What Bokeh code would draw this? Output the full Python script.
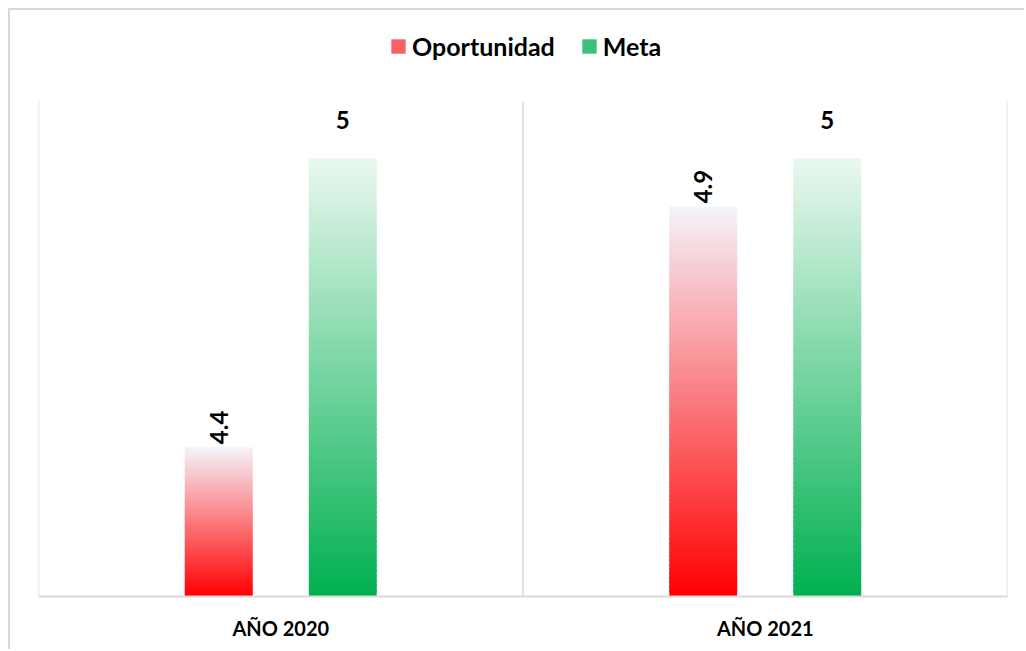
import math
from bokeh.plotting import figure
from bokeh.models import (FactorRange, Range1d, Legend, LegendItem,
                          ColumnDataSource)
from bokeh.core.properties import value
from bokeh.transform import dodge
from bokeh.embed import file_html
from bokeh.resources import INLINE

# ---------------- data ----------------
categories = ["AÑO 2020", "AÑO 2021"]
oportunidad = [4.4, 4.9]
meta = [5, 5]
series_names = ["Oportunidad", "Meta"]

# ---------------- style ----------------
FONT = "Lato"
Y_START, PLOT_TOP, Y_END = 4.09, 5.118, 5.3065
RED_BOTTOM, RED_TOP = (255, 0, 0), (245, 244, 251)
GREEN_BOTTOM, GREEN_TOP = (0, 176, 80), (234, 248, 240)
N_SLICES = 90
BAR_W = 0.14
OFFS = {"Oportunidad": -0.128, "Meta": 0.128}
GRID = "#d9d9d9"

p = figure(x_range=FactorRange(factors=categories, range_padding=0),
           y_range=Range1d(Y_START, Y_END),
           width=1016, height=641, output_backend="svg",
           toolbar_location=None, tools="")
p.styles = {"border-left": "2px solid #d9d9d9", "border-top": "2px solid #d9d9d9",
            "margin-left": "8px", "margin-top": "8px"}
p.min_border_left = 28
p.min_border_right = 19
p.min_border_top = 0
p.min_border_bottom = 55
p.outline_line_color = None
p.background_fill_color = "white"
p.border_fill_color = "white"
p.ygrid.visible = False
p.xgrid.visible = False
p.yaxis.visible = False

p.xaxis.axis_line_color = GRID
p.xaxis.axis_line_width = 2
p.xaxis.major_tick_line_color = None
p.xaxis.minor_tick_line_color = None
p.xaxis.major_label_text_font = FONT
p.xaxis.major_label_text_font_style = "bold"
p.xaxis.major_label_text_font_size = "20px"
p.xaxis.major_label_text_color = "#000000"
p.xaxis.major_label_standoff = 13

# category boundary lines (plot area only)
bsrc = ColumnDataSource(dict(x=categories, y0=[Y_START] * len(categories),
                             y1=[PLOT_TOP] * len(categories)))
p.segment(x0=dodge("x", -0.5, range=p.x_range), x1=dodge("x", -0.5, range=p.x_range),
          y0="y0", y1="y1", source=bsrc, line_color=GRID, line_width=1.5)
esrc = ColumnDataSource(dict(x=[categories[-1]], y0=[Y_START], y1=[PLOT_TOP]))
p.segment(x0=dodge("x", 0.5, range=p.x_range), x1=dodge("x", 0.5, range=p.x_range),
          y0="y0", y1="y1", source=esrc, line_color=GRID, line_width=1.5)


def lerp(c0, c1, t):
    return "#%02x%02x%02x" % tuple(int(round(a + (b - a) * t)) for a, b in zip(c0, c1))


def gradient_bars(vals, name, c0, c1):
    xs, bottoms, tops, colors = [], [], [], []
    for cat, v in zip(categories, vals):
        step = (v - Y_START) / N_SLICES
        for i in range(N_SLICES):
            t0 = i / N_SLICES
            t1 = (i + 1) / N_SLICES
            xs.append(cat)
            bottoms.append(Y_START + (v - Y_START) * t0)
            tops.append(min(v, Y_START + (v - Y_START) * t1 + step * 0.6))
            colors.append(lerp(c0, c1, (t0 + t1) / 2))
    src = ColumnDataSource(dict(x=xs, bottom=bottoms, top=tops, color=colors))
    p.vbar(x=dodge("x", OFFS[name], range=p.x_range), bottom="bottom", top="top",
           width=BAR_W, fill_color="color", line_color=None, source=src)


gradient_bars(oportunidad, "Oportunidad", RED_BOTTOM, RED_TOP)
gradient_bars(meta, "Meta", GREEN_BOTTOM, GREEN_TOP)

# data labels
src_o = ColumnDataSource(dict(x=categories, y=oportunidad,
                              t=[f"{v:g}" for v in oportunidad]))
src_m = ColumnDataSource(dict(x=categories, y=meta, t=[f"{v:g}" for v in meta]))
p.text(x=dodge("x", OFFS["Oportunidad"], range=p.x_range), y="y", text="t",
       source=src_o, angle=math.pi / 2, text_align="left", text_baseline="middle",
       y_offset=-3, text_font=value(FONT), text_font_style="bold",
       text_font_size="24px", text_color="#000000")
p.text(x=dodge("x", OFFS["Meta"], range=p.x_range), y="y", text="t",
       source=src_m, text_align="center", text_baseline="middle",
       y_offset=-38, text_font=value(FONT), text_font_style="bold",
       text_font_size="24px", text_color="#000000")

# legend (zero-height swatch renderers carry the legend colours)
lsrc = ColumnDataSource(dict(x=[categories[0]], b=[Y_START], t=[Y_START]))
leg_r_o = p.vbar(x="x", bottom="b", top="t", width=0.001, source=lsrc,
                 fill_color="#fb6064", line_color=None)
leg_r_m = p.vbar(x="x", bottom="b", top="t", width=0.001, source=lsrc,
                 fill_color="#3dbf7a", line_color=None)
legend = Legend(items=[LegendItem(label=series_names[0], renderers=[leg_r_o]),
                       LegendItem(label=series_names[1], renderers=[leg_r_m])],
                orientation="horizontal", location=(351, 535),
                glyph_width=18, glyph_height=18, label_standoff=5, spacing=25,
                padding=0, margin=0, border_line_color=None,
                background_fill_alpha=0,
                label_text_font=FONT, label_text_font_style="bold",
                label_text_font_size="25px", label_text_color="#000000")
p.add_layout(legend, "center")

open("out.html", "w").write(file_html(p, INLINE))
